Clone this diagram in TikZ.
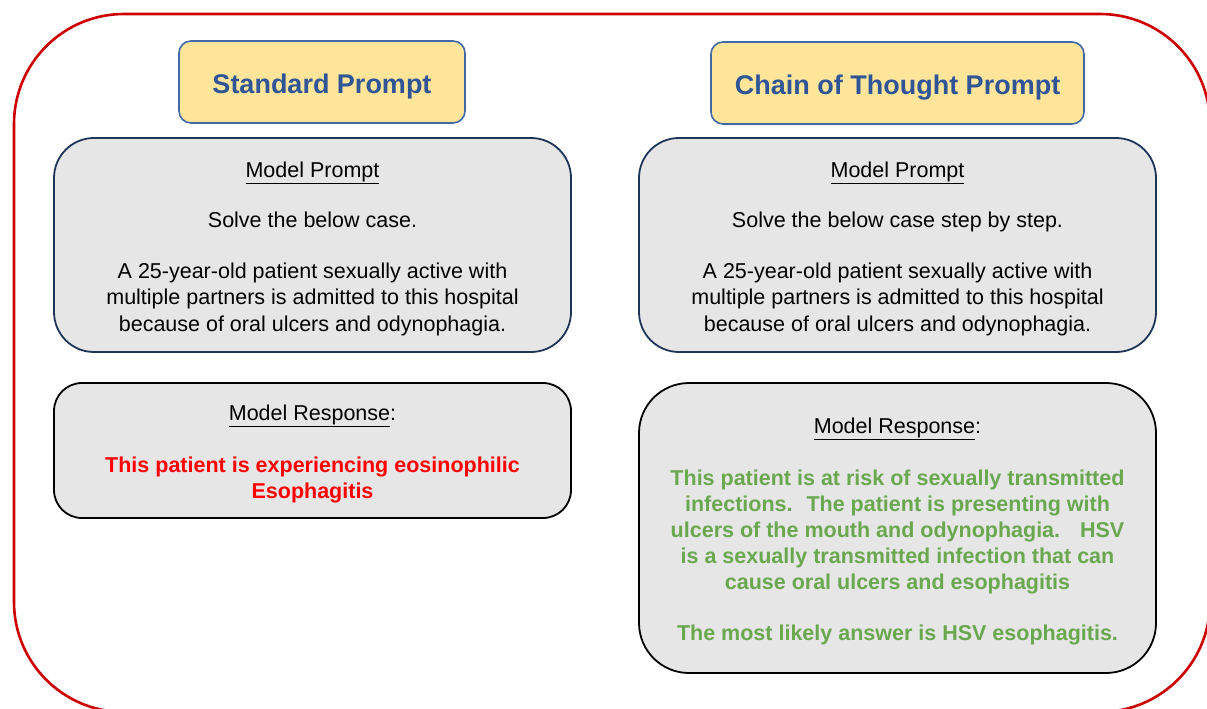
\documentclass[tikz,border=0pt]{standalone}
\usepackage{fontspec}
\setmainfont{Liberation Sans}
\usepackage{xcolor}
\usetikzlibrary{positioning}

\definecolor{outerred}{HTML}{CC0000}
\definecolor{titlefill}{HTML}{FFE599}
\definecolor{titleblue}{HTML}{2F5597}
\definecolor{titleline}{HTML}{4169A8}
\definecolor{boxgray}{HTML}{E6E6E6}
\definecolor{boxnavy}{HTML}{1F3558}
\definecolor{wronganswer}{HTML}{FF0000}
\definecolor{rightanswer}{HTML}{6AA84F}
\newcommand{\boxlift}{\rule{0pt}{23pt}}

\begin{document}
\begin{tikzpicture}[x=1pt,y=-1pt,
    titlebox/.style={draw=titleline, line width=1.6pt, fill=titlefill, rounded corners=12pt,
        text=titleblue, font=\fontsize{27}{32}\selectfont\bfseries, minimum height=82pt,
        text height=22pt, text depth=0pt},
    promptbox/.style={draw=boxnavy, line width=1.8pt, fill=boxgray, rounded corners=40pt,
        align=center, font=\fontsize{21.5}{26.5}\selectfont, minimum width=517pt, minimum height=214pt},
    answerbox/.style={draw=black, line width=1.8pt, fill=boxgray,
        align=center, font=\fontsize{21.5}{26}\selectfont, minimum width=517pt}]
				\useasboundingbox (0,0) rectangle (1207,709);
				% outer frame, runs past the right and bottom edge
				\draw[outerred, line width=2.6pt, rounded corners=110pt] (14,14) rectangle (1210,712);
				% column headers
				\node[titlebox, minimum width=286pt] (stdtitle) at (322,82) {Standard Prompt};
				\node[titlebox, minimum width=373pt] (cottitle) at (897.5,83) {Chain of Thought Prompt};
				% prompts
				\node[promptbox] (stdprompt) at (312.5,245) {\boxlift\underline{Model Prompt}\\[24pt]
					Solve the below case.\\[24pt]
					A 25-year-old patient sexually active with\\
					multiple partners is admitted to this hospital\\
					because of oral ulcers and odynophagia.};
				\node[promptbox] (cotprompt) at (897.5,245) {\boxlift\underline{Model Prompt}\\[24pt]
					Solve the below case step by step.\\[24pt]
					A 25-year-old patient sexually active with\\
					multiple partners is admitted to this hospital\\
					because of oral ulcers and odynophagia.};
				% responses
				\node[answerbox, rounded corners=28pt, minimum height=135pt] (stdanswer) at (312.5,450.5)
					{\boxlift\underline{Model Response}:\\[26pt]
					\color{wronganswer}\bfseries This patient is experiencing eosinophilic\\
					\color{wronganswer}\bfseries Esophagitis};
				\node[answerbox, rounded corners=50pt, minimum height=290pt] (cotanswer) at (897.5,528)
					{\boxlift\underline{Model Response}:\\[26pt]
					\color{rightanswer}\bfseries This patient is at risk of sexually transmitted\\
					\color{rightanswer}\bfseries infections.~ The patient is presenting with\\
					\color{rightanswer}\bfseries ulcers of the mouth and odynophagia.~~ HSV\\
					\color{rightanswer}\bfseries is a sexually transmitted infection that can\\
					\color{rightanswer}\bfseries cause oral ulcers and esophagitis\\[25pt]
					\color{rightanswer}\bfseries The most likely answer is HSV esophagitis.};
			\end{tikzpicture}
\end{document}
